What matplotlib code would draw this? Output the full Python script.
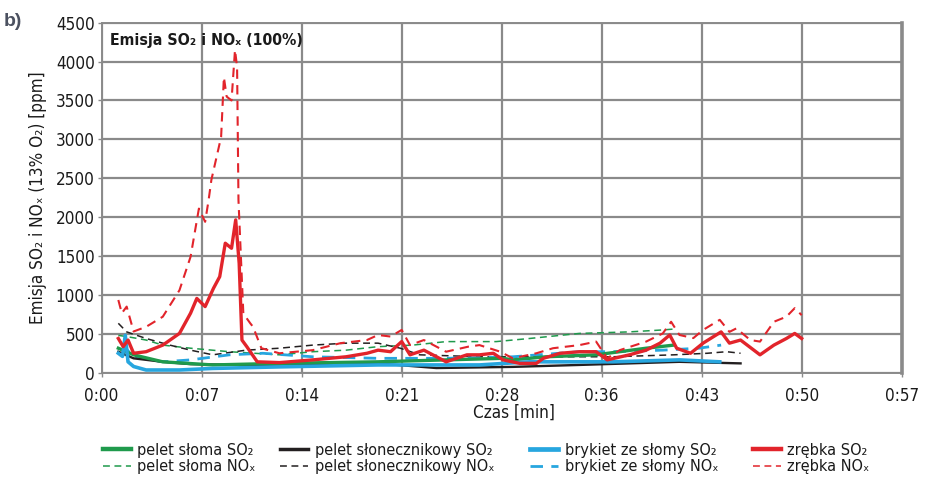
import numpy as np
import matplotlib
matplotlib.use("Agg")
import matplotlib.pyplot as plt
from matplotlib import font_manager
from matplotlib.font_manager import FontProperties
from matplotlib.textpath import TextPath
from matplotlib.lines import Line2D

# look for the narrowest condensed sans face, the chart uses one
def stretch_val(st):
    if isinstance(st, str):
        return font_manager.stretch_dict.get(st, 500)
    return st

cond = None
for f in font_manager.fontManager.ttflist:
    sv = stretch_val(f.stretch)
    if f.style != 'normal' or 'Mono' in f.name or 'Serif' in f.name:
        continue
    if sv < 300 or sv >= 500:
        continue
    if cond is None or sv < stretch_val(cond.stretch):
        cond = f

if cond is not None:
    FAM = [cond.name, 'DejaVu Sans']
    STR = cond.stretch
else:
    FAM = ['Liberation Sans', 'DejaVu Sans']
    STR = 'normal'
plt.rcParams['font.family'] = FAM
plt.rcParams['font.stretch'] = STR


def fit_size(s, px, weight='normal'):
    # font size giving an ink width of px pixels at 100 dpi
    fp = FontProperties(family=FAM, stretch=STR, weight=weight)
    w = TextPath((0, 0), s, size=10, prop=fp).get_extents().width * 100 / 72
    return 10 * px / w

# data (time in minutes, emission in ppm)
zr_so2_t = [1.2, 1.55, 1.9, 2.3, 3.2, 4.4, 5.6, 6.4, 6.85, 7.45, 8.05, 8.5, 8.9, 9.35, 9.65,
            9.9, 10.1, 10.45, 11.2, 12.8, 15.2, 17.6, 19.1, 19.9, 20.8, 21.6, 22.2, 23.2, 24.8, 26.3,
            27.2, 28.2, 28.9, 30.1, 31.3, 31.8, 33.0, 34.4, 35.6, 36.4, 38.0, 39.2, 40.2, 40.9, 41.4,
            42.4, 43.3, 44.6, 45.2, 46.0, 47.4, 48.4, 49.3, 49.9, 50.4]
zr_so2 = [440, 335, 420, 250, 270, 355, 505, 765, 955, 850, 1085, 1235, 1665, 1600, 1965,
          1405, 420, 335, 140, 130, 165, 205, 250, 290, 270, 400, 230, 290, 140, 230,
          230, 250, 165, 120, 120, 185, 250, 270, 270, 165, 230, 290, 380, 485, 315,
          250, 380, 525, 380, 420, 230, 355, 440, 505, 440]

zr_nox_t = [1.2, 1.45, 1.8, 2.3, 3.2, 4.4, 5.6, 6.4, 7.0, 7.45, 7.7, 7.9, 8.6, 8.8, 9.0,
            9.35, 9.6, 9.75, 9.85, 10.2, 10.7, 10.9, 11.5, 12.8, 15.2, 17.2, 19.1, 19.9, 20.8, 21.6,
            22.2, 23.2, 24.8, 26.4, 27.2, 28.7, 29.6, 31.3, 32.5, 34.4, 35.6, 36.4, 37.3, 39.2, 40.4,
            41.0, 41.6, 42.6, 43.3, 44.5, 45.2, 45.7, 46.7, 47.4, 48.4, 49.3, 49.9, 50.4]
zr_nox = [935, 765, 850, 530, 590, 720, 1060, 1490, 2110, 1940, 2220, 2480, 3030, 3800, 3550,
          3500, 4150, 3930, 2220, 760, 635, 590, 315, 250, 290, 380, 420, 485, 465, 550,
          355, 420, 270, 335, 355, 270, 185, 250, 315, 355, 400, 185, 290, 400, 505,
          655, 485, 445, 550, 680, 525, 570, 420, 400, 655, 720, 830, 740]

ps_so2_t = [1.2, 2.3, 4.4, 8.0, 12.8, 19.9, 24.8, 28.9, 29.6, 32.0, 35.6, 39.2, 41.2]
ps_so2 = [315, 230, 140, 100, 120, 140, 165, 185, 165, 205, 230, 315, 355]
ps_nox_t = [1.2, 1.8, 3.2, 4.4, 6.4, 9.2, 12.8, 15.2, 17.6, 19.9, 22.4, 24.8, 28.4, 30.8, 34.4, 38.0, 40.4, 41.1]
ps_nox = [480, 465, 420, 355, 315, 270, 230, 270, 290, 335, 355, 400, 400, 440, 505, 525, 550, 560]

pn_so2_t = [1.2, 2.3, 4.4, 6.4, 10.4, 19.9, 24.1, 29.6, 34.4, 41.6, 46.0]
pn_so2 = [270, 185, 140, 110, 100, 120, 60, 75, 100, 140, 120]
pn_nox_t = [1.2, 1.8, 3.2, 4.9, 6.4, 8.0, 10.4, 12.8, 15.2, 17.6, 19.9, 21.5, 22.9, 27.2, 32.0, 36.8, 41.2, 43.6, 45.0, 46.0]
pn_nox = [635, 525, 440, 355, 290, 230, 290, 315, 355, 380, 380, 315, 230, 205, 205, 205, 230, 250, 270, 250]

bk_so2_t = [1.2, 1.5, 1.7, 1.9, 2.3, 3.2, 5.6, 8.0, 12.8, 19.9, 27.2, 30.8, 36.8, 41.6, 44.5]
bk_so2 = [250, 210, 480, 140, 80, 35, 35, 55, 75, 100, 100, 140, 140, 165, 140]
bk_nox_t = [1.3, 1.8, 2.3, 4.4, 6.4, 9.2, 11.6, 15.2, 19.9, 24.8, 29.6, 34.4, 36.8, 40.4, 43.0, 44.6]
bk_nox = [230, 300, 205, 140, 165, 230, 250, 205, 185, 185, 205, 270, 270, 290, 315, 355]

x_ticks = [0, 7.2, 14.4, 21.6, 28.8, 36.0, 43.2, 50.4, 57.6]
x_labels = ['0:00', '0:07', '0:14', '0:21', '0:28', '0:36', '0:43', '0:50', '0:57']

GREEN = '#1f9a4c'
BLACK = '#231f20'
BLUE = '#27a6df'
RED = '#e2242b'
GRID = '#8a8a8a'
TXT = '#1a1a1a'

FS_TICK = min(15, fit_size('0:57', 32))
FS_LEG = min(15, fit_size('pelet słoma SO₂', 114))
FS_TITLE = min(15, fit_size('Emisja SO₂ i NOₓ (100%)', 190, 'bold'))

fig = plt.figure(figsize=(9.31, 4.86), dpi=100)
ax = fig.add_axes([0.1092, 0.2331, 0.8593, 0.7202])

dash = (4.5, 3)
ax.plot(ps_nox_t, ps_nox, color=GREEN, lw=1.1, dashes=dash, zorder=3)
ax.plot(pn_nox_t, pn_nox, color=BLACK, lw=1.1, dashes=dash, zorder=3)
ax.plot(bk_nox_t, bk_nox, color=BLUE, lw=2.0, dashes=dash, zorder=3)
ax.plot(pn_so2_t, pn_so2, color=BLACK, lw=1.7, zorder=4)
ax.plot(ps_so2_t, ps_so2, color=GREEN, lw=2.4, zorder=4)
ax.plot(bk_so2_t, bk_so2, color=BLUE, lw=2.6, zorder=4)
ax.plot(zr_nox_t, zr_nox, color=RED, lw=1.5, dashes=dash, zorder=5)
ax.plot(zr_so2_t, zr_so2, color=RED, lw=2.4, zorder=6)

ax.set_xlim(0, 57.6)
ax.set_ylim(0, 4500)
ax.set_xticks(x_ticks)
ax.set_xticklabels(x_labels)
ax.set_yticks(np.arange(0, 4501, 500))
ax.grid(True, color=GRID, lw=1.6)
ax.set_axisbelow(True)
for s in ax.spines.values():
    s.set_color(GRID)
    s.set_linewidth(1.4)
ax.spines['right'].set_linewidth(2.6)
ax.tick_params(colors=GRID, labelcolor=TXT, labelsize=FS_TICK, length=3, width=1)
ax.tick_params(axis='x', pad=7)
ax.tick_params(axis='y', pad=2)

ax.set_ylabel('Emisja SO₂ i NOₓ (13% O₂) [ppm]', fontsize=FS_TICK, color=TXT)
ax.yaxis.set_label_coords(-0.068, 0.50)
fig.text(0.552, 0.150, 'Czas [min]', fontsize=FS_TICK, color=TXT, ha='center', va='center')

ax.text(0.011, 0.95, 'Emisja SO₂ i NOₓ (100%)', transform=ax.transAxes,
        fontsize=FS_TITLE, fontweight='bold', color=TXT, ha='left', va='center', zorder=10)
fig.text(0.004, 0.955, 'b)', fontsize=14, fontweight='bold', color='#4b5160',
         family='Liberation Sans', stretch='normal', ha='left', va='center')

# legend, one block per fuel
fuels = ['pelet słoma', 'pelet słonecznikowy', 'brykiet ze słomy', 'zrębka']
colors = [GREEN, BLACK, BLUE, RED]
so2_lw = [2.4, 1.7, 2.6, 2.4]
nox_lw = [1.1, 1.1, 2.0, 1.1]
leg_x = [0.1106, 0.3008, 0.5695, 0.8085]
for name, c, lw1, lw2, lx in zip(fuels, colors, so2_lw, nox_lw, leg_x):
    h = [Line2D([], [], color=c, lw=lw1 + 0.8),
         Line2D([], [], color=c, lw=lw2, dashes=dash)]
    fig.legend(h, [name + ' SO₂', name + ' NOₓ'], loc='upper left',
               bbox_to_anchor=(lx, 0.089), frameon=False, fontsize=FS_LEG,
               handlelength=28 / (FS_LEG * 100 / 72), handletextpad=0.4, labelspacing=0.1,
               borderaxespad=0, borderpad=0, labelcolor=TXT)

fig.savefig('out.png', dpi=100)
